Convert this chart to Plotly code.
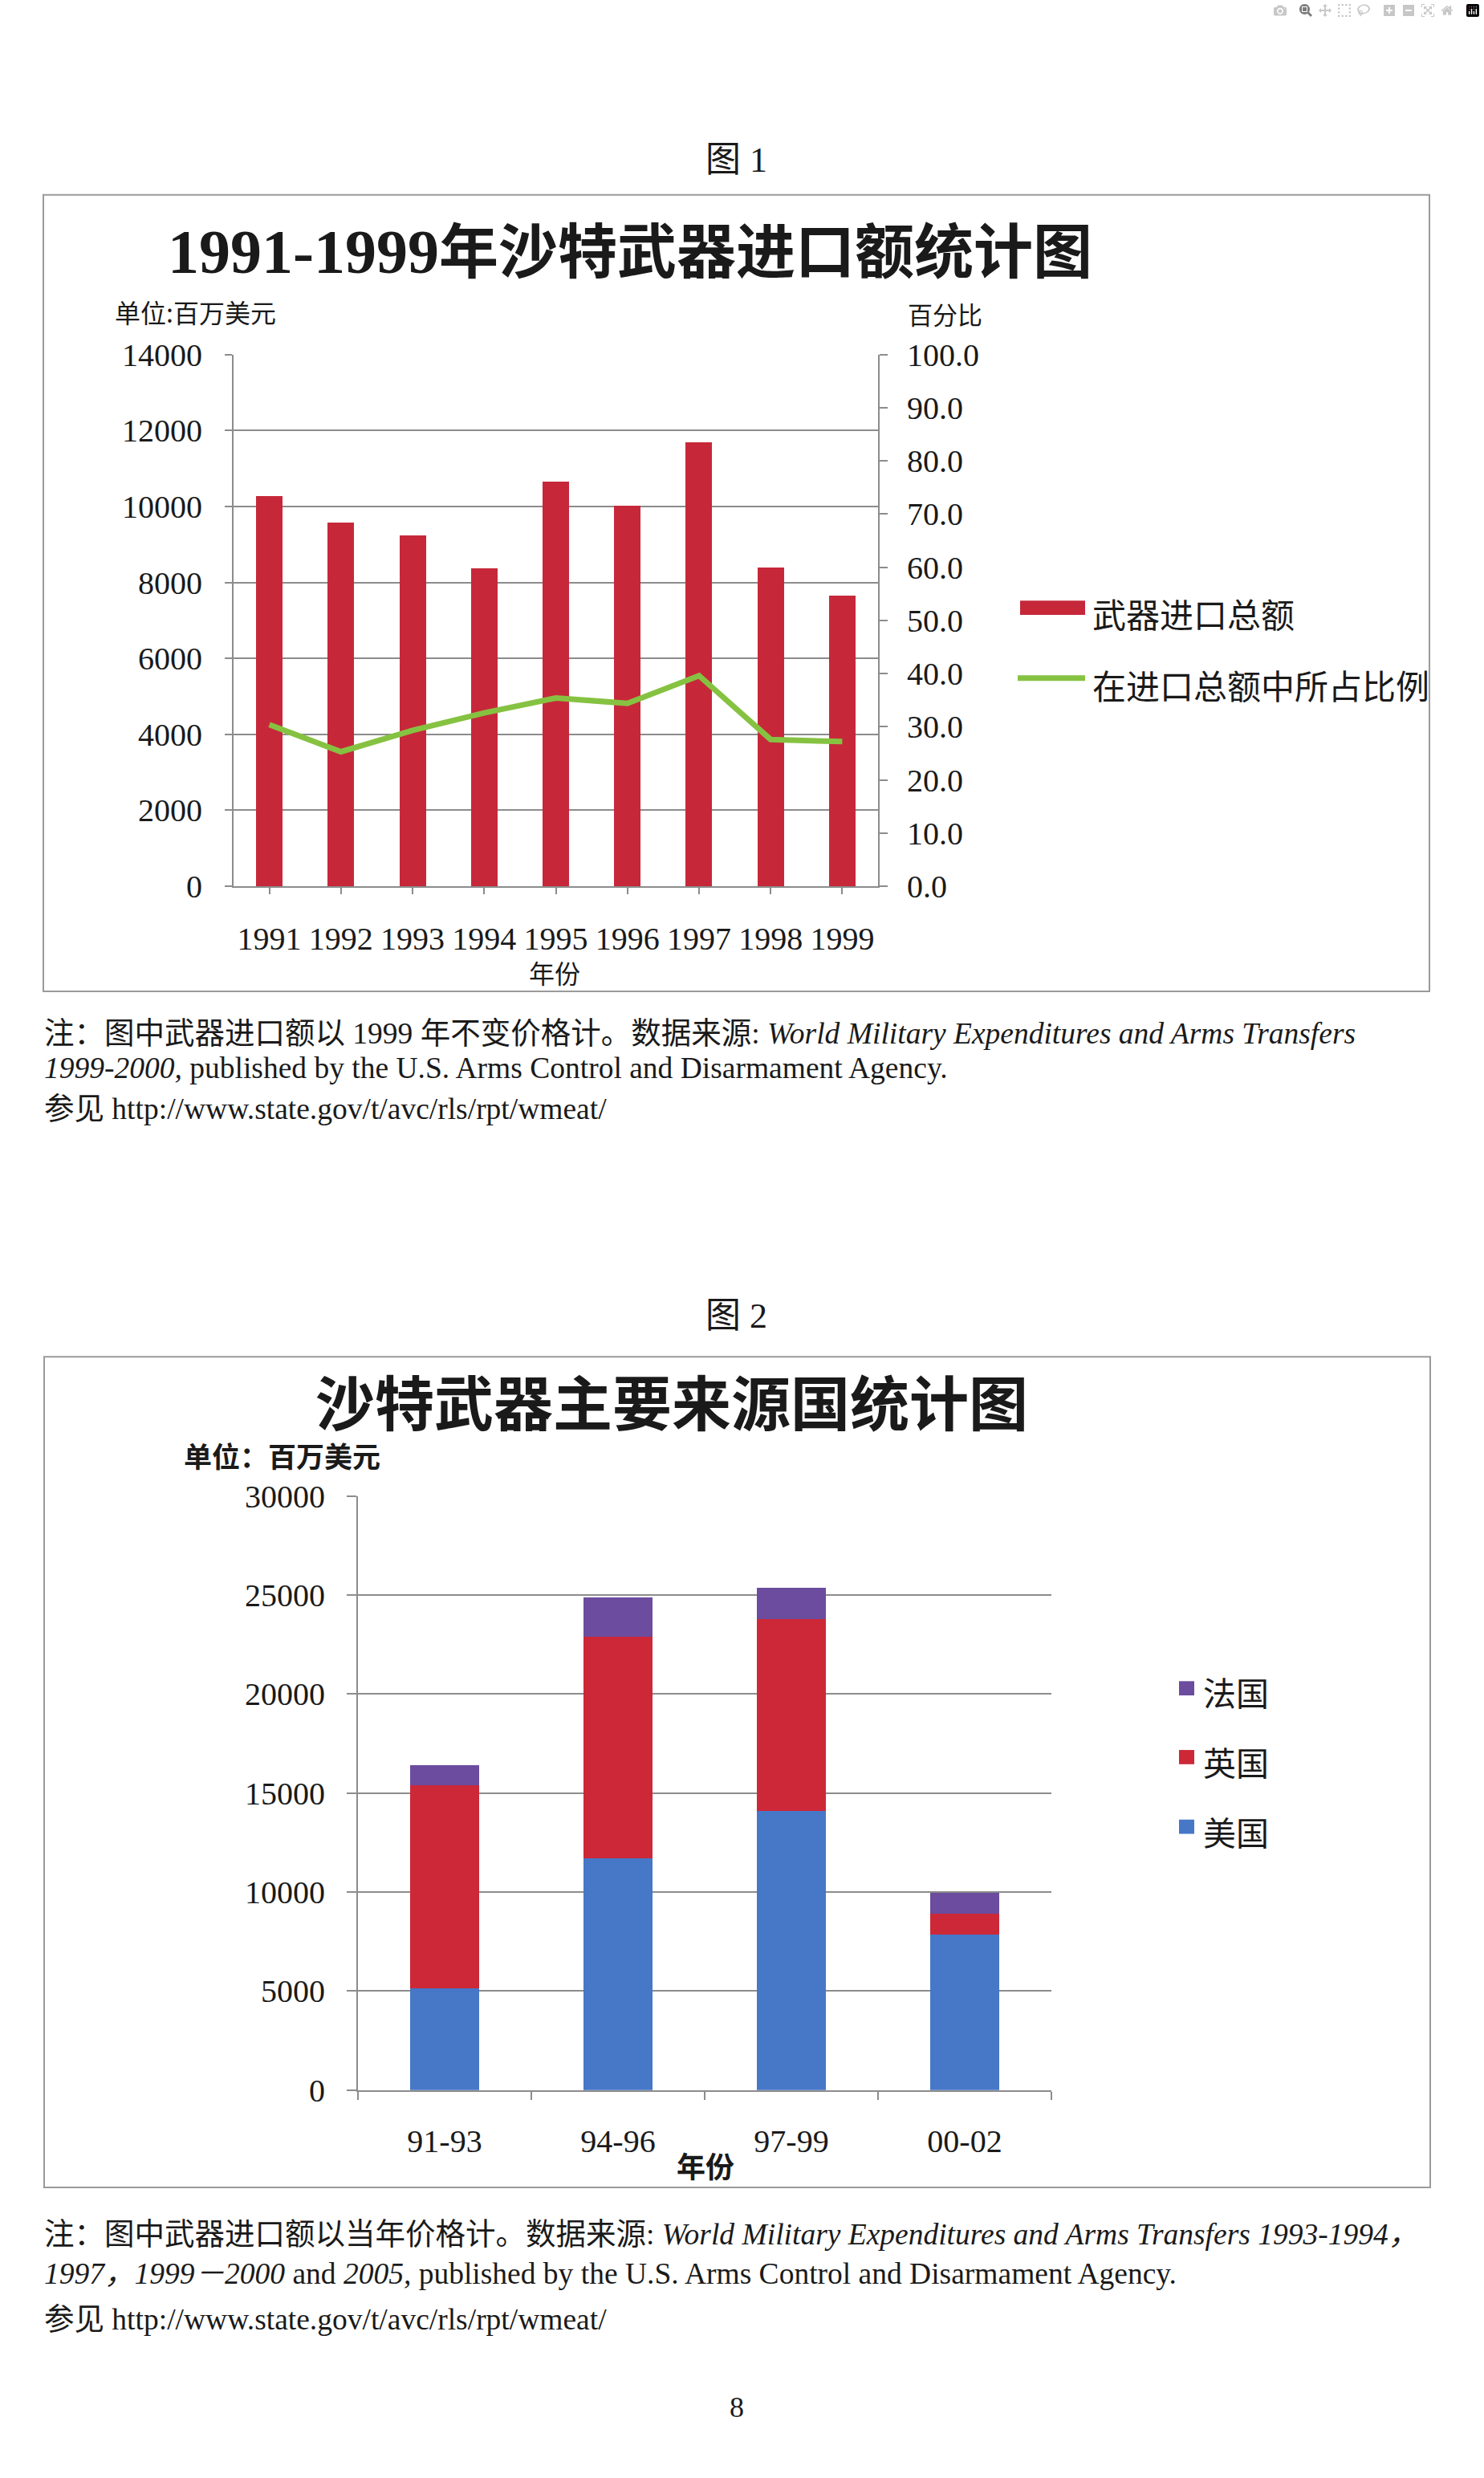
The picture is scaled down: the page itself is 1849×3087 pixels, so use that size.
import plotly.graph_objects as go

# ---------------- data ----------------
years = ["1991", "1992", "1993", "1994", "1995", "1996", "1997", "1998", "1999"]
arms_imports = [10270, 9580, 9230, 8380, 10660, 10020, 11690, 8400, 7660]
import_share = [30.4, 25.3, 29.3, 32.6, 35.4, 34.4, 39.6, 27.6, 27.2]
series1_names = ["武器进口总额", "在进口总额中所占比例"]

periods = ["91-93", "94-96", "97-99", "00-02"]
usa = [5150, 11710, 14090, 7840]
uk = [10230, 11200, 9680, 1060]
france = [1040, 1980, 1590, 1080]
series2_names = ["美国", "英国", "法国"]

W, H = 1849, 3087
def X(p): return p / W
def Y(p): return 1 - p / H

RED1 = "#C6283A"
GREEN = "#86C241"
BLUE = "#4777C7"
RED2 = "#CC2838"
PURPLE = "#6B4C9E"
GRID = "#8C8C8C"
SERIF = "Liberation Serif, Noto Sans CJK SC"
CJK = "Noto Sans CJK SC"
TXT = "#1a1a1a"

fig = go.Figure()

# chart 1
fig.add_trace(go.Bar(x=years, y=arms_imports, name=series1_names[0], marker=dict(color=RED1, line=dict(width=0)),
                     width=0.37, xaxis="x", yaxis="y", showlegend=False))
fig.add_trace(go.Scatter(x=years, y=import_share, name=series1_names[1], mode="lines",
                         line=dict(color=GREEN, width=7), xaxis="x", yaxis="y2", showlegend=False))

# chart 2
for vals, nm, col in [(usa, series2_names[0], BLUE), (uk, series2_names[1], RED2), (france, series2_names[2], PURPLE)]:
    fig.add_trace(go.Bar(x=periods, y=vals, name=nm, marker=dict(color=col, line=dict(width=0)),
                         width=0.395, xaxis="x2", yaxis="y3", showlegend=False))

tickfont = dict(family=SERIF, size=40, color=TXT)

fig.update_layout(
    width=W, height=H, margin=dict(l=0, r=0, t=0, b=0, pad=0),
    paper_bgcolor="white", plot_bgcolor="white",
    barmode="stack", showlegend=False,
    xaxis=dict(domain=[X(291), X(1094)], anchor="y", type="category", range=[-0.5, 8.5],
               showline=True, linecolor=GRID, linewidth=2, ticks="outside", ticklen=8,
               tickcolor=GRID, tickwidth=2, tickfont=tickfont, ticklabelstandoff=21,
               showgrid=False, fixedrange=True),
    yaxis=dict(domain=[Y(1098), Y(426)], anchor="x", range=[0, 14000], dtick=2000, tickformat="d",
               showline=True, linecolor=GRID, linewidth=2, ticks="outside", ticklen=9,
               tickcolor=GRID, tickwidth=2, showgrid=True, gridcolor=GRID, gridwidth=2,
               zeroline=False, tickfont=tickfont, ticklabelstandoff=20),
    yaxis2=dict(overlaying="y", side="right", anchor="x", range=[0, 100], dtick=10, tickformat=".1f",
                showline=True, linecolor=GRID, linewidth=2, ticks="outside", ticklen=10,
                tickcolor=GRID, tickwidth=2, showgrid=False, zeroline=False,
                tickfont=tickfont, ticklabelstandoff=16),
    xaxis2=dict(domain=[X(446), X(1310)], anchor="y3", type="category", range=[-0.5, 3.5],
                showline=True, linecolor=GRID, linewidth=2, ticks="outside", ticklen=10,
                tickson="boundaries", tickcolor=GRID, tickwidth=2, tickfont=tickfont,
                ticklabelstandoff=27, showgrid=False),
    yaxis3=dict(domain=[Y(2620), Y(1869)], anchor="x2", range=[0, 30000], dtick=5000, tickformat="d",
                showline=True, linecolor=GRID, linewidth=2, ticks="outside", ticklen=12,
                tickcolor=GRID, tickwidth=2, showgrid=True, gridcolor=GRID, gridwidth=2,
                zeroline=False, tickfont=tickfont, ticklabelstandoff=19),
)

shapes = []
# frames
shapes.append(dict(type="rect", xref="paper", yref="paper", x0=X(54), x1=X(1781), y0=Y(1231), y1=Y(224),
                   line=dict(color="#9A9A9A", width=2), fillcolor="rgba(0,0,0,0)", layer="below"))
shapes.append(dict(type="rect", xref="paper", yref="paper", x0=X(55), x1=X(1782), y0=Y(2743), y1=Y(1693),
                   line=dict(color="#9A9A9A", width=2), fillcolor="rgba(0,0,0,0)", layer="below"))
# legend swatches chart 1
shapes.append(dict(type="rect", xref="paper", yref="paper", x0=X(1271), x1=X(1352), y0=Y(755), y1=Y(737),
                   line=dict(width=0), fillcolor=RED1))
shapes.append(dict(type="line", xref="paper", yref="paper", x0=X(1268), x1=X(1352), y0=Y(835), y1=Y(835),
                   line=dict(color=GREEN, width=7)))
# legend swatches chart 2
for yc, col in [(2112, PURPLE), (2199, RED2), (2287, BLUE)]:
    shapes.append(dict(type="rect", xref="paper", yref="paper", x0=X(1469), x1=X(1488), y0=Y(yc + 9), y1=Y(yc - 9),
                       line=dict(width=0), fillcolor=col))
fig.update_layout(shapes=shapes)

ann = []
def A(text, x, y, size, family=CJK, xanchor="center", yanchor="middle", color=TXT):
    ann.append(dict(text=text, x=X(x), y=Y(y), xref="paper", yref="paper", showarrow=False,
                    xanchor=xanchor, yanchor=yanchor, font=dict(family=family, size=size, color=color)))

NOTE = 37.5
A("图 1", 917, 180, 44, family=SERIF)
A("<b><span style='font-family:Liberation Serif;font-size:78px'>1991-1999</span>"
  "<span style='font-family:Noto Sans CJK SC'>年沙特武器进口额统计图</span></b>", 785, 290, 74, family=SERIF)
A("单位:百万美元", 141, 371, 32, xanchor="left")
A("百分比", 1129, 374, 31, xanchor="left")
A("年份", 691, 1207, 32)
A(series1_names[0], 1359, 752, 42, xanchor="left")
A(series1_names[1], 1359, 843, 42, xanchor="left")

A("注：图中武器进口额以 1999 年不变价格计。数据来源: <i>World Military Expenditures and Arms Transfers</i>",
  53, 1284, NOTE, family=SERIF, xanchor="left")
A("<i>1999-2000,</i> published by the U.S. Arms Control and Disarmament Agency.",
  53, 1328, NOTE, family=SERIF, xanchor="left")
A("参见 http://www.state.gov/t/avc/rls/rpt/wmeat/", 53, 1380, NOTE, family=SERIF, xanchor="left")

A("图 2", 917, 1641, 44, family=SERIF)
A("<b>沙特武器主要来源国统计图</b>", 837, 1747, 74)
A("<b>单位：百万美元</b>", 227, 1817, 35, xanchor="left")
A("<b>年份</b>", 879, 2715, 36)
for yc, nm in [(2116, series2_names[2]), (2204, series2_names[1]), (2292, series2_names[0])]:
    A(nm, 1497, yc, 41, xanchor="left")

A("注：图中武器进口额以当年价格计。数据来源: <i>World Military Expenditures and Arms Transfers 1993-1994，</i>",
  53, 2802, NOTE, family=SERIF, xanchor="left")
A("<i>1997，1999－2000</i> and <i>2005,</i> published by the U.S. Arms Control and Disarmament Agency.",
  53, 2852, NOTE, family=SERIF, xanchor="left")
A("参见 http://www.state.gov/t/avc/rls/rpt/wmeat/", 53, 2910, NOTE, family=SERIF, xanchor="left")
A("8", 918, 3021, 36, family=SERIF)

fig.update_layout(annotations=ann)

fig.write_html("out.html", post_script="document.body.style.margin='0';document.body.style.overflow='hidden';")
